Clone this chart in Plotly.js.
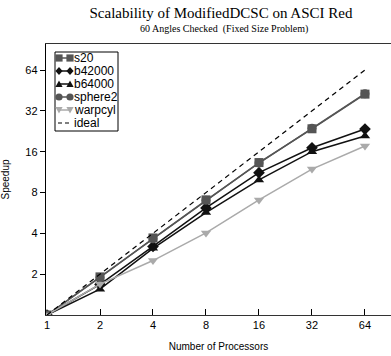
<!DOCTYPE html>
<html>
<head>
<meta charset="utf-8">
<script src="https://cdn.plot.ly/plotly-3.0.1.min.js"></script>
<style>html,body{margin:0;padding:0;background:#fff;}#chart{width:391px;height:356px;}</style>
</head>
<body>
<div id="chart"></div>
<script>
var processors = [1, 2, 4, 8, 16, 32, 64];
var s20 = [1, 1.91, 3.70, 7.06, 13.3, 23.6, 42.5];
var b42000 = [1, 1.68, 3.20, 6.16, 11.2, 17.1, 23.5];
var b64000 = [1, 1.55, 3.10, 5.69, 9.9, 16.0, 20.9];
var sphere2 = [1, 1.89, 3.65, 7.0, 13.2, 23.8, 42.8];
var warpcyl = [1, 1.69, 2.52, 4.03, 7.05, 11.9, 17.6];
var ideal = [1, 2, 4, 8, 16, 32, 64];
var tickVals = [1, 2, 4, 8, 16, 32, 64];
var tickText = ['1', '2', '4', '8', '16', '32', '64'];
var yTickVals = [2, 4, 8, 16, 32, 64];
var yTickText = ['2', '4', '8', '16', '32', '64'];
var seriesNames = ['s20', 'b42000', 'b64000', 'sphere2', 'warpcyl', 'ideal'];
var seriesColors = ['#555555', '#111111', '#111111', '#555555', '#aaaaaa', '#000000'];
var seriesSymbols = ['square', 'diamond', 'triangle-up', 'circle', 'triangle-down', null];

// plot area geometry (pixels)
var L = 46, T = 44, W = 345, H = 271;
function px(x) { return (x - L) / W; }
function py(y) { return (T + H - y) / H; }

function series(i, y) {
  return {x: processors, y: y, name: seriesNames[i], type: 'scatter', mode: 'lines+markers',
    showlegend: false,
    line: {color: seriesColors[i], width: 1.5},
    marker: {symbol: seriesSymbols[i], color: seriesColors[i], size: 9}};
}
var traces = [
  series(0, s20), series(1, b42000), series(2, b64000), series(3, sphere2), series(4, warpcyl),
  {x: processors, y: ideal, name: 'ideal', type: 'scatter', mode: 'lines', showlegend: false,
   line: {color: '#000', width: 1.2, dash: '5px,4px'}}
];

// custom legend (box, symbols, labels)
var shapes = [{type: 'rect', xref: 'paper', yref: 'paper', x0: px(55), x1: px(118), y0: py(52), y1: py(131),
  line: {color: '#000', width: 1}, fillcolor: '#fff', layer: 'above'}];
var annotations = [];
function markerShape(sym, cx, cy, color) {
  var r = 3.6;
  var base = {xref: 'paper', yref: 'paper', fillcolor: color, line: {color: color, width: 0}, layer: 'above'};
  function pathFrom(pts) {
    return 'M' + pts.map(function (p) { return px(p[0]) + ',' + py(p[1]); }).join('L') + 'Z';
  }
  if (sym === 'square') return Object.assign({type: 'rect', x0: px(cx - r), x1: px(cx + r), y0: py(cy + r), y1: py(cy - r)}, base);
  if (sym === 'circle') return Object.assign({type: 'circle', x0: px(cx - r), x1: px(cx + r), y0: py(cy + r), y1: py(cy - r)}, base);
  if (sym === 'diamond') return Object.assign({type: 'path', path: pathFrom([[cx, cy - r - 0.5], [cx + r, cy], [cx, cy + r + 0.5], [cx - r, cy]])}, base);
  if (sym === 'triangle-up') return Object.assign({type: 'path', path: pathFrom([[cx, cy - r], [cx + r, cy + r - 0.5], [cx - r, cy + r - 0.5]])}, base);
  if (sym === 'triangle-down') return Object.assign({type: 'path', path: pathFrom([[cx - r, cy - r + 0.5], [cx + r, cy - r + 0.5], [cx, cy + r]])}, base);
  return null;
}
seriesNames.forEach(function (name, i) {
  var cy = 58 + 13 * i;
  var c = seriesColors[i];
  var sym = seriesSymbols[i];
  if (sym) {
    shapes.push({type: 'line', xref: 'paper', yref: 'paper', x0: px(59), x1: px(70), y0: py(cy), y1: py(cy),
      line: {color: c, width: 1.5}, layer: 'above'});
    shapes.push(markerShape(sym, 59, cy, c));
    shapes.push(markerShape(sym, 70, cy, c));
  } else {
    shapes.push({type: 'line', xref: 'paper', yref: 'paper', x0: px(58), x1: px(71), y0: py(cy), y1: py(cy),
      line: {color: c, width: 1.2, dash: '4px,3px'}, layer: 'above'});
  }
  annotations.push({text: name, xref: 'paper', yref: 'paper', x: px(72), y: py(cy), xanchor: 'left', yanchor: 'middle',
    showarrow: false, font: {size: 12, color: '#000'}});
});
annotations.push({text: '60 Angles Checked  (Fixed Size Problem)', xref: 'paper', yref: 'paper',
  x: px(224), y: py(29), xanchor: 'center', yanchor: 'middle', showarrow: false,
  font: {family: 'Liberation Serif, Times New Roman, serif', size: 10, color: '#000'}});

var layout = {
  width: 391, height: 356,
  margin: {l: L, r: 391 - L - W, t: T, b: 356 - T - H},
  paper_bgcolor: '#fff', plot_bgcolor: '#fff',
  showlegend: false,
  font: {family: 'Liberation Sans, Arial, sans-serif', size: 11, color: '#000'},
  title: {text: 'Scalability of ModifiedDCSC on ASCI Red', x: 221/391, xanchor: 'center',
    xref: 'container', yref: 'container', y: 1 - 13/356, yanchor: 'middle',
    font: {family: 'Liberation Serif, Times New Roman, serif', size: 15, color: '#000'}},
  annotations: annotations,
  shapes: shapes,
  xaxis: {type: 'log', range: [-0.0057, 1.954], tickvals: tickVals, ticktext: tickText,
    ticks: 'inside', ticklen: 6, tickcolor: '#000', showgrid: false, zeroline: false,
    showline: true, linecolor: '#333', linewidth: 1.2, mirror: true,
    tickfont: {size: 11},
    title: {text: 'Number of Processors', font: {size: 10}, standoff: 12}},
  yaxis: {type: 'log', range: [0, 1.998], tickvals: yTickVals, ticktext: yTickText,
    ticks: 'outside', ticklen: 5, tickcolor: '#000', showgrid: false, zeroline: false,
    showline: true, linecolor: '#000', linewidth: 1.2,
    tickfont: {size: 11},
    title: {text: 'Speedup', font: {size: 10}, standoff: 14}}
};
Plotly.newPlot('chart', traces, layout, {displayModeBar: false, staticPlot: true});
</script>
</body>
</html>
